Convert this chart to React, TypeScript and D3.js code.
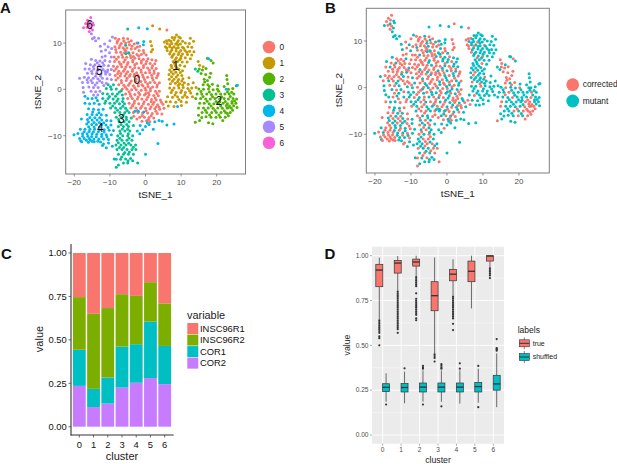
import React from "react";
import * as d3 from "d3";

type P = [number, number, number];
const cluster0: P[] = [[-8.5,11,0],[-7.5,10.8,0],[-6.2,11,1],[-5,10.9,0],[-4,10.5,0],[-8,10,0],[-6.8,9.9,0],[-5.6,10,0],[-4.5,9.6,0],[-3.2,9.8,1],[-2.4,10,0],[-1.6,9.3,1],[-8.6,9.2,0],[-7.4,9,0],[-6.3,9,0],[-5.2,8.9,1],[-4,8.7,0],[-2.9,8.8,0],[-1.8,8.4,1],[-0.6,8.4,0],[-8.2,8,0],[-7,8,0],[-5.9,7.9,0],[-4.7,7.8,0],[-3.5,7.9,0],[-2.4,7.5,1],[-1.2,7.5,0],[0.2,7.4,1],[-8.8,7,0],[-7.6,7,1],[-6.4,6.9,0],[-5.3,6.9,0],[-4.1,6.8,0],[-3,6.7,1],[-1.8,6.6,0],[-0.6,6.5,1],[0.7,6.6,0],[1.8,6.4,1],[-8.7,6,0],[-7.4,5.9,0],[-6.1,5.9,0],[-4.9,5.8,1],[-3.6,5.9,0],[-2.5,5.6,0],[-1.2,5.7,1],[0.1,5.5,1],[1.3,5.6,0],[2.6,5.5,1],[-9,5,0],[-7.9,4.9,0],[-6.7,4.9,0],[-5.5,4.8,0],[-4.3,4.8,1],[-3,4.7,0],[-1.9,4.6,0],[-0.6,4.7,1],[0.6,4.6,0],[1.8,4.6,1],[3,4.5,1],[-8.8,4,0],[-7.5,3.9,1],[-6.2,3.9,0],[-5,3.8,0],[-3.7,3.9,0],[-2.5,3.6,1],[-1.2,3.7,0],[0,3.6,1],[1.2,3.6,0],[2.4,3.5,1],[3.6,3.4,0],[-8.5,3,0],[-7.1,2.9,0],[-5.8,2.9,0],[-4.5,2.8,1],[-3.2,2.8,0],[-1.9,2.7,0],[-0.6,2.6,1],[0.6,2.6,0],[1.9,2.5,1],[3.1,2.5,0],[-8.3,2,0],[-6.8,1.9,1],[-5.4,1.9,0],[-4,1.8,0],[-2.7,1.7,0],[-1.3,1.7,0],[0,1.6,1],[1.3,1.5,0],[2.6,1.5,1],[3.9,1.4,0],[-7.5,1,0],[-6.1,0.9,1],[-4.8,0.9,0],[-3.4,0.8,0],[-2,0.7,1],[-0.7,0.7,0],[0.7,0.6,1],[2,0.5,0],[3.2,0.5,1],[-6.5,0.1,0],[-5.2,0,1],[-3.9,-0.1,0],[-2.6,-0.1,1],[-1.2,-0.2,0],[0.1,-0.2,0],[1.4,-0.3,1],[2.8,-0.4,1],[3.9,-0.4,0],[-5.6,-1,0],[-4.3,-1,1],[-3,-1.1,1],[-1.6,-1.1,0],[-0.3,-1.2,1],[1,-1.2,0],[2.3,-1.3,1],[3.6,-1.4,0],[-5,-2,1],[-3.7,-2,0],[-2.3,-2.1,1],[-1,-2.1,0],[0.3,-2.2,1],[1.7,-2.2,0],[3,-2.3,0],[4.2,-2.3,1],[-4.6,-3,0],[-3.2,-3,0],[-1.9,-3.1,1],[-0.6,-3.1,0],[0.8,-3.2,1],[2.1,-3.2,0],[3.4,-3.3,1],[4.9,-3.2,0],[-4.1,-4,1],[-2.7,-4,0],[-1.4,-4.1,0],[0,-4.1,1],[1.3,-4.2,0],[2.6,-4.2,1],[4,-4.3,0],[5.2,-4.1,1],[-3.4,-5,0],[-2.1,-5,1],[-0.8,-5.1,0],[0.6,-5.1,0],[1.9,-5.2,1],[3.3,-5.2,0],[4.6,-5.3,1],[-3.3,-5.8,0],[-1.6,-6,1],[-0.3,-6,0],[1,-6.1,1],[2.3,-6.2,0],[-1,-6.9,0],[0.3,-6.8,1],[1.2,-7,0],[-5.5,8.2,0],[-3.4,7.1,0],[-6.9,5.4,0],[-4.3,3.2,0],[-2.2,3.1,0],[-6.9,3.4,0],[-1,1,0],[-3.6,-3.6,1],[0.1,-0.9,1],[1.6,-2.7,0],[3,-3.8,0],[2.9,6.2,1],[6,12.8,0]];
const cluster0Extra: P[] = [[-7.9,10.37,0],[-6.1,10.43,0],[-4.7,10.22,1],[-7.2,9.47,0],[-3.8,9.31,0],[-5.9,8.58,0],[-8.37,8.61,1],[-2.31,9.12,0],[-6.62,7.46,0],[-4.23,7.33,0],[-1.93,7.18,1],[-0.44,7.83,0],[-8.18,6.49,0],[-5.72,6.37,0],[-3.58,6.26,0],[-1.12,6.13,1],[0.33,6.04,1],[-7.11,5.46,0],[-5.14,5.37,1],[-3.03,5.29,0],[-0.53,5.16,0],[1.96,5.07,1],[-8.27,4.46,0],[-5.83,4.33,0],[-3.62,4.28,0],[-1.27,4.18,1],[1.09,4.11,0],[2.43,4.02,0],[-7.82,3.43,0],[-5.41,3.36,1],[-3.12,3.24,0],[-0.83,3.12,0],[1.71,3.04,1],[3.42,2.97,0],[-7.73,2.46,0],[-5.16,2.38,0],[-2.61,2.23,0],[-0.28,2.14,1],[2.13,2.03,0],[-6.73,1.42,0],[-4.42,1.34,0],[-2.06,1.27,1],[0.62,1.17,0],[3.33,0.97,1],[-5.63,0.46,1],[-3.01,0.33,0],[-0.11,0.26,1],[1.38,0.17,0],[-4.62,-0.53,0],[-1.93,-0.66,0],[0.83,-0.72,1],[3.21,-0.89,0],[-4.11,-1.47,1],[-2.08,-1.63,0],[0.62,-1.71,1],[2.76,-1.84,0],[-3.07,-2.53,0],[-0.36,-2.66,1],[2.38,-2.78,0],[4.47,-2.77,1],[-3.61,-3.44,0],[-1.02,-3.62,0],[1.58,-3.73,1],[3.83,-3.81,0],[-2.32,-4.58,1],[0.17,-4.63,0],[2.92,-4.71,1],[-0.92,-5.63,1],[1.61,-5.69,0],[-2.42,-6.38,0],[0.82,-6.52,0]];
const cluster1: P[] = [[7.5,11.2,1],[8.7,11.7,1],[9.8,11.1,1],[6.6,10.6,0],[8,10.7,1],[9.2,10.5,1],[10.4,10.4,1],[12.6,11,1],[13.5,10.4,1],[5.3,10.2,0],[6.1,9.9,1],[7.4,9.9,1],[8.5,9.8,0],[9.8,9.8,1],[11.2,10,1],[12.3,9.9,1],[5.6,9.2,0],[6.8,9.2,1],[8,9.2,1],[9.2,9,1],[10.4,9.1,0],[11.9,9.2,1],[13,9.1,1],[6.1,8.4,0],[7.4,8.5,1],[8.6,8.3,1],[9.9,8.4,1],[11.1,8.4,1],[12.4,8.2,1],[13.6,8.1,1],[6.8,7.6,0],[8,7.6,1],[9.2,7.5,1],[10.4,7.6,1],[11.8,7.5,1],[13,7.4,1],[7.4,6.9,1],[8.7,6.8,1],[9.9,6.7,0],[11.2,6.8,1],[12.6,6.6,1],[7.8,6,1],[9,6,1],[10.3,5.9,1],[11.7,5.9,1],[7.2,5.2,1],[8.4,5.1,1],[9.7,5.2,0],[11,5,1],[6.8,4.2,1],[8,4.2,1],[9.4,4.3,1],[10.4,4,1],[6.6,3.2,1],[7.8,3.3,0],[9.1,3.1,1],[10.2,3,1],[6.7,2.2,1],[8,2.2,1],[9.3,2.1,1],[10.5,2.3,0],[12.2,2.5,1],[7,1.2,0],[8.4,1.3,1],[9.6,1.2,1],[10.9,1.4,1],[12,1.1,1],[13.4,1.4,1],[6.8,0.3,1],[8,0.3,1],[9.4,0.3,0],[10.6,0.4,1],[11.9,0.2,1],[13,0.3,1],[14.2,0.4,1],[7.2,-0.7,1],[8.6,-0.7,1],[9.9,-0.7,1],[11.2,-0.7,1],[12.7,-0.8,1],[6.2,-1.6,1],[7.6,-1.7,0],[9,-1.6,1],[10.4,-1.7,1],[11.7,-1.7,1],[13.2,-1.6,1],[5.8,-2.7,0],[7,-2.7,1],[8.5,-2.8,1],[10,-2.6,1],[11.5,-2.8,1],[6.4,-3.6,0],[8,-3.7,1],[10.1,-3.5,1],[1.4,10.3,0],[1.7,9.4,0],[2,8.6,0],[1.6,8.1,0],[4,13,1],[2,13.7,0],[14.8,6,0],[16.2,4.9,1],[15.2,5.2,0]];
const cluster1Extra: P[] = [[8.23,11.16,1],[9.37,11.32,1],[7.12,10.38,1],[8.91,10.12,1],[5.92,10.46,0],[6.83,9.61,1],[9.12,9.57,1],[7.47,8.92,0],[8.62,8.83,1],[10.73,8.87,1],[5.97,8.93,0],[7.03,8.13,1],[9.43,7.96,1],[11.62,8.01,1],[7.63,7.28,1],[10.02,7.17,1],[8.37,6.43,0],[9.58,6.36,1],[8.18,5.57,1],[7.41,4.73,1],[8.83,4.66,1],[7.27,3.76,1],[8.52,3.71,1],[9.78,3.63,1],[7.33,2.71,0],[8.63,2.67,1],[7.56,1.76,1],[9.03,1.71,1],[10.21,1.78,1],[9.18,0.83,0],[10.43,0.93,1],[7.52,-0.17,1],[10.13,-0.26,1],[12.38,-0.31,1],[8.29,-1.22,1],[11.03,-1.28,1],[9.37,-2.18,1]];
const cluster2: P[] = [[17.4,6.7,1],[18.4,6.2,0],[19,5.7,1],[15.1,4.4,0],[16,4.2,0],[17,4.5,0],[18.3,3.5,0],[15.6,3.4,0],[16.9,3.2,0],[18,2.6,0],[16.5,2.2,0],[17.4,1.9,0],[22.8,3,1],[22.9,2.1,1],[23.1,1.2,1],[16.2,1,0],[17.5,1,1],[18.8,1.1,0],[20.3,0.8,1],[22.1,0.6,1],[25.5,0.8,1],[15,0.1,1],[16.3,0,0],[17.7,0.1,1],[19,-0.1,1],[20.2,0,0],[23.3,0,1],[24.5,0.2,1],[14.5,-1,1],[15.8,-1,1],[17.2,-1,0],[18.5,-1.1,1],[19.8,-1,1],[21.1,-1,1],[22.3,-1,1],[23.5,-1,0],[24.8,-1,1],[14.1,-2,1],[15.5,-2,1],[16.9,-2.1,1],[18.2,-2.1,0],[19.5,-2,1],[20.8,-2.1,1],[22.1,-2,1],[23.3,-2.1,0],[24.6,-2,1],[25.6,-2.1,1],[15.2,-3,0],[16.5,-3,1],[17.9,-3.1,1],[19.2,-3.1,1],[20.5,-3,1],[21.8,-3,0],[23,-3.1,0],[24.3,-3,1],[25.4,-3,1],[14.9,-4,0],[16.3,-4,1],[17.6,-4,1],[19,-4.1,1],[20.3,-4,1],[21.6,-4.1,0],[22.9,-4,0],[24.1,-4,0],[25.7,-3.9,1],[15.9,-5,1],[17.2,-5,1],[18.6,-5,0],[19.9,-5,1],[21.2,-5,0],[22.5,-5,0],[23.8,-5,0],[17,-5.9,1],[18.4,-6,1],[19.8,-6,0],[21,-6,1],[22.4,-6,0],[23.3,-5.7,0],[14.9,-5.6,1],[15.8,-6.1,1],[15.2,-6.7,1],[17.7,-7.2,1],[18.9,-7.4,1],[21.7,-6.7,0],[20.9,-2.7,1],[22.7,-3.5,0],[23.6,-3.6,0],[24.3,-2.6,1],[14,-7.1,0]];
const cluster2Extra: P[] = [[16.63,1.57,0],[17.92,0.62,0],[15.58,-0.47,1],[17.93,-0.58,1],[20.53,-0.43,1],[23.03,-0.57,1],[24.21,-0.63,1],[16.17,-1.53,0],[18.83,-1.62,1],[21.37,-1.58,1],[23.82,-1.56,1],[17.32,-2.58,1],[19.88,-2.62,1],[22.41,-2.63,0],[25.02,-2.53,1],[18.43,-3.58,1],[21.13,-3.61,1],[23.28,-3.97,0],[24.77,-3.53,1],[16.83,-4.53,1],[19.52,-4.58,0],[22.13,-4.62,0],[24.47,-4.51,0],[20.63,-5.53,1],[23.02,-5.23,0],[18.02,-5.51,1]];
const cluster3: P[] = [[-10.5,1,0],[-9,1,1],[-11,0.2,1],[-9.6,0,1],[-8.2,0.1,0],[-6.8,-0.3,1],[-12,-0.9,0],[-10.7,-1,1],[-9.3,-1,1],[-7.9,-1,0],[-6.5,-1.2,1],[-13.5,-2.4,0],[-12,-2,1],[-10.5,-2,1],[-9.1,-2.1,0],[-7.7,-2.1,1],[-6.3,-2,0],[-11.4,-3,0],[-10,-3,1],[-8.7,-3,1],[-7.3,-3.1,0],[-5.9,-3.1,1],[-9.8,-4,0],[-8.4,-4,1],[-7,-4.1,0],[-5.6,-4.1,1],[-8.6,-5,1],[-7.2,-5,0],[-5.8,-5,0],[-4.6,-5,1],[-8.2,-6,0],[-6.8,-6,1],[-5.4,-6,1],[-4,-6.2,0],[-7.4,-7,1],[-6,-7,0],[-4.6,-7,1],[-7.6,-8,0],[-6.2,-8,1],[-4.8,-8,0],[-3.4,-7.8,1],[-7.2,-9,1],[-5.8,-9,0],[-4.4,-9,1],[-7.8,-10,0],[-6.4,-10,1],[-5,-10,0],[-3.6,-10,1],[-8,-11,1],[-6.6,-11,0],[-5.2,-11,0],[-3.8,-11,1],[-8.3,-12,1],[-6.9,-12,1],[-5.5,-12,0],[-4.1,-12,0],[-2.8,-12,1],[-8,-13,0],[-6.6,-13,1],[-5.2,-13,1],[-3.8,-13,0],[-2.7,-13,0],[-7.6,-14,1],[-6.2,-14,0],[-4.8,-14,1],[-3.4,-14,0],[-7,-15.1,1],[-5.6,-15,0],[-4.2,-14.9,1],[-6.2,-15.9,1],[-5,-15.9,1],[-8.2,-16.8,0],[-7.6,-16.3,1],[-3.6,-15.4,1],[-2.2,-15.9,0],[-5,13,1],[-5.6,9.5,1],[-4.7,7.9,1],[-5.5,7.7,1],[14,4.4,1],[14.7,3.9,1],[-8.8,-15,1]];
const cluster3Extra: P[] = [[-9.83,0.57,0],[-7.31,-0.57,0],[-10.13,-1.53,1],[-8.42,-1.47,0],[-11.17,-2.53,0],[-8.03,-2.58,1],[-6.42,-2.61,0],[-9.22,-3.57,1],[-6.36,-3.62,0],[-7.87,-4.53,0],[-5.17,-4.58,1],[-6.23,-5.46,0],[-7.53,-6.52,0],[-5.33,-6.53,1],[-6.87,-7.56,1],[-5.27,-7.57,0],[-6.52,-8.53,0],[-5.03,-8.61,1],[-7.03,-9.52,0],[-4.83,-9.57,1],[-7.21,-10.56,1],[-4.63,-10.53,0],[-6.02,-11.57,0],[-7.63,-11.52,1],[-4.73,-11.63,1],[-6.12,-12.53,0],[-3.42,-12.47,1],[-7.32,-12.56,1],[-4.53,-13.53,0],[-5.83,-13.62,1],[-6.71,-14.57,0],[-4.9,-15.41,1]];
const cluster4: P[] = [[-17,-1.5,1],[-16.2,-2,1],[-15,-2,0],[-13.9,-1.8,1],[-17,-3,0],[-15.7,-3.1,1],[-14.4,-3,1],[-13,-3.2,0],[-16,-4.2,0],[-14.6,-4.3,1],[-13.2,-4.4,1],[-11.9,-4.3,0],[-16.4,-5.4,0],[-15,-5.4,0],[-13.7,-5.5,1],[-12.4,-5.5,1],[-11,-5.6,0],[-18,-6.4,0],[-16.3,-6.5,1],[-15,-6.6,0],[-13.6,-6.6,0],[-12.3,-6.6,1],[-10.9,-6.7,0],[-9.7,-6.8,1],[-16.5,-7.5,0],[-15.1,-7.6,1],[-13.8,-7.6,0],[-12.4,-7.6,1],[-11.1,-7.7,0],[-9.7,-7.7,1],[-18.3,-8.6,1],[-17,-8.6,0],[-15.6,-8.6,0],[-14.3,-8.6,1],[-12.9,-8.7,0],[-11.6,-8.7,1],[-10.2,-8.8,0],[-9,-8.9,1],[-19,-9.5,0],[-17.7,-9.6,1],[-16.4,-9.6,0],[-15,-9.6,0],[-13.7,-9.7,1],[-12.3,-9.7,1],[-11,-9.8,0],[-9.6,-9.8,1],[-20.1,-9.8,1],[-18.5,-10.6,0],[-17.2,-10.6,0],[-15.8,-10.6,0],[-14.5,-10.7,0],[-13.1,-10.7,1],[-11.8,-10.7,1],[-10.4,-10.8,0],[-18.2,-11.1,1],[-16.6,-11,0],[-15,-11.2,0],[-13.4,-11.2,1],[-11.8,-11.8,0],[-10.4,-11.6,1],[-12.1,-12.1,0],[-11,-12.6,1],[-9.3,-12.3,1],[-8.2,-15.1,0],[-2,-4.7,1],[-3,-4.7,1],[-0.5,-4.9,1],[0.5,-7.2,1],[-1.5,-7.8,1],[0,-8,1],[1,-7.6,1],[-0.8,-8.7,0],[-2.3,-9,1],[-1.6,-9.6,1],[2.2,-8.6,1],[2.6,-7,1],[3.8,-6.7,1],[4.7,-6.9,1],[3.5,-11.7,1],[0,-14,1],[-2.1,10,1],[-0.5,10.3,1],[-0.6,9.6,1],[-1.9,13.3,1],[0.5,13.1,1],[9,-3.7,1],[8,-7.5,1],[6,-7.7,1],[22.7,0,1],[25.8,0.9,1],[17.7,6.6,1]];
const cluster4Extra: P[] = [[-14.83,-4.87,1],[-13.07,-5.03,0],[-15.63,-6.07,0],[-14.23,-6.13,1],[-12.87,-6.12,0],[-16.03,-7.03,1],[-14.47,-7.13,1],[-12.97,-7.17,0],[-11.72,-7.21,1],[-15.97,-8.07,0],[-14.43,-8.13,1],[-12.93,-8.12,1],[-10.53,-8.21,0],[-17.23,-9.13,0],[-15.83,-9.11,0],[-14.63,-9.17,1],[-13.23,-9.13,0],[-11.63,-9.22,1],[-17.63,-10.13,0],[-16.23,-10.13,0],[-15.13,-10.17,0],[-13.83,-10.21,1],[-12.33,-10.18,0],[-10.83,-10.27,1],[-16.03,-11.41,0],[-14.43,-11.33,0],[-12.63,-11.37,1],[-15.53,-10.93,0],[-17.93,-11.33,0]];
const cluster5: P[] = [[-9.3,11.3,1],[-10,10.5,0],[-11.5,9.8,0],[-12.7,9.3,1],[-10.5,9.2,1],[-9.5,8.8,0],[-11.2,8.5,0],[-12.4,8.2,1],[-10.1,7.9,1],[-11.3,7.2,0],[-12.2,7,0],[-9.6,7,0],[-15.2,6.5,1],[-14,6.2,0],[-12.8,6.1,0],[-11.4,6.2,1],[-10,6,0],[-16.8,5.6,1],[-15.5,5.3,0],[-14.2,5.3,1],[-13,5.2,0],[-11.7,5.2,0],[-10.4,5.1,0],[-17,4.4,0],[-15.8,4.4,1],[-14.5,4.4,0],[-13.2,4.3,0],[-11.9,4.3,0],[-10.6,4.2,1],[-9.6,4.3,0],[-16.3,3.5,0],[-15,3.4,0],[-13.8,3.4,0],[-12.5,3.3,0],[-11.2,3.3,1],[-10,3.2,0],[-18.5,2.4,1],[-17.2,2.6,0],[-16,2.5,0],[-14.7,2.4,0],[-13.4,2.3,0],[-12.1,2.4,1],[-10.8,2.3,0],[-9.6,2.1,1],[-17.7,1.5,0],[-16.2,1.5,1],[-14.9,1.4,0],[-13.6,1.4,1],[-12.2,1.5,0],[-11,1.3,0],[-17.5,0.4,1],[-15.9,0.5,0],[-14.6,0.4,0],[-13.3,0.4,1],[-17.4,-0.6,1],[-15.3,-0.4,1],[-14,-0.5,0],[-12.8,-0.4,1],[-14.6,-1.2,0],[-13.4,-1.2,1],[-14.4,11.2,1],[-14.9,10.9,1],[-14,10.5,1],[-13.2,11,1],[-15.2,12,1]];
const cluster5Extra: P[] = [[-14.63,4.93,0],[-12.47,4.83,0],[-15.13,3.93,0],[-13.63,3.87,0],[-11.33,3.83,0],[-14.03,2.83,0],[-12.63,2.87,1],[-15.33,1.93,0],[-12.87,1.87,0],[-14.13,0.93,1],[-11.73,0.83,0],[-12.03,5.73,0],[-13.53,5.73,0],[-10.73,3.73,0],[-16.43,2.07,0]];
const cluster6: P[] = [[-15.4,15.5,0],[-16.3,14.9,0],[-15.7,14.5,0],[-14.8,14.3,1],[-16.8,14.2,0],[-15.8,13.7,1],[-14.6,13.9,1],[-17.4,13.3,1],[-16.4,13.4,0],[-15.4,13.2,0],[-14.9,12.8,1],[-15.8,12.5,0]];
const clusterPoints = [
  [...cluster0, ...cluster0Extra], [...cluster1, ...cluster1Extra], [...cluster2, ...cluster2Extra],
  [...cluster3, ...cluster3Extra], [...cluster4, ...cluster4Extra], [...cluster5, ...cluster5Extra], cluster6,
];
const clusterLabels = ["0", "1", "2", "3", "4", "5", "6"];
const clusterColors = ["#F8766D", "#C49A00", "#53B400", "#00C094", "#00B6EB", "#A58AFF", "#FB61D7"];
const labelSpots: [number, number][] = [[-2.4, 2], [8.5, 5], [20.6, -2.4], [-6.8, -6.3], [-12.7, -8.2], [-13, 4], [-15.7, 14]];
const conditions = ["corrected", "mutant"];
const conditionColors = ["#F8766D", "#00BFC4"];

const variables = ["INSC96R1", "INSC96R2", "COR1", "COR2"];
const barColors = ["#F8766D", "#7CAE00", "#00BFC4", "#C77CFF"];
const cor2 = [0.235, 0.113, 0.133, 0.225, 0.253, 0.28, 0.245];
const cor1 = [0.208, 0.105, 0.15, 0.236, 0.222, 0.325, 0.22];
const insc2 = [0.303, 0.432, 0.4, 0.302, 0.278, 0.227, 0.245];
const insc1 = [0.254, 0.35, 0.317, 0.237, 0.247, 0.168, 0.29];

type Box = { lo: number; q1: number; med: number; q3: number; hi: number; out: number[] };
const boxLabels = ["true", "shuffled"];
const trueBoxes: Box[] = [
  { lo: 0.645, q1: 0.827, med: 0.92, q3: 0.952, hi: 0.989, out: [0.64, 0.63, 0.62, 0.61, 0.6, 0.59, 0.58, 0.57, 0.55, 0.54, 0.5] },
  { lo: 0.805, q1: 0.903, med: 0.959, q3: 0.974, hi: 0.998, out: [0.8, 0.79, 0.78, 0.77, 0.76, 0.75, 0.74, 0.73, 0.72, 0.71, 0.7, 0.69, 0.68, 0.67, 0.66, 0.65, 0.64, 0.63, 0.62, 0.61, 0.6, 0.59, 0.57] },
  { lo: 0.887, q1: 0.942, med: 0.965, q3: 0.981, hi: 1, out: [0.88, 0.87, 0.86, 0.85, 0.84, 0.83, 0.79, 0.76, 0.75, 0.74, 0.73, 0.72, 0.71, 0.7, 0.69, 0.68, 0.67, 0.65, 0.64] },
  { lo: 0.455, q1: 0.693, med: 0.777, q3: 0.855, hi: 0.99, out: [0.45, 0.44, 0.43, 0.41] },
  { lo: 0.77, q1: 0.86, med: 0.897, q3: 0.924, hi: 0.98, out: [0.77, 0.76, 0.75, 0.74, 0.73, 0.72, 0.71, 0.7, 0.69, 0.68, 0.67, 0.66, 0.65, 0.62, 0.585] },
  { lo: 0.706, q1: 0.855, med: 0.913, q3: 0.97, hi: 1, out: [] },
  { lo: 0.933, q1: 0.97, med: 0.998, q3: 1, hi: 1, out: [0.93, 0.92, 0.91, 0.9, 0.89, 0.875] },
];
const shuffledBoxes: Box[] = [
  { lo: 0.186, q1: 0.242, med: 0.266, q3: 0.286, hi: 0.344, out: [0.17] },
  { lo: 0.177, q1: 0.24, med: 0.265, q3: 0.287, hi: 0.353, out: [0.372] },
  { lo: 0.186, q1: 0.24, med: 0.267, q3: 0.29, hi: 0.36, out: [0.385, 0.375, 0.37, 0.17] },
  { lo: 0.185, q1: 0.24, med: 0.267, q3: 0.29, hi: 0.36, out: [0.395, 0.385, 0.375, 0.37, 0.16] },
  { lo: 0.175, q1: 0.24, med: 0.267, q3: 0.29, hi: 0.36, out: [0.4, 0.37] },
  { lo: 0.18, q1: 0.24, med: 0.27, q3: 0.293, hi: 0.37, out: [0.385, 0.155] },
  { lo: 0.155, q1: 0.25, med: 0.285, q3: 0.333, hi: 0.455, out: [0.535, 0.485, 0.48, 0.475, 0.47] },
];
const tsneXTicks = [-20, -10, 0, 10, 20];
const tsneYTicks = [-10, 0, 10];
const valueTicks = [0, 0.25, 0.5, 0.75, 1];

const FONT = "'Liberation Sans', Arial, sans-serif";
const GREY = "#4d4d4d";
const minus = (v: number) => String(v).replace("-", "\u2212");

function TsnePanel(props: {
  sx: d3.ScaleLinear<number, number>; sy: d3.ScaleLinear<number, number>;
  box: [number, number, number, number]; color: (p: P, cluster: number) => string; labelX: number; labelY: number; titleY: number; children?: React.ReactNode;
}) {
  const { sx, sy, box, color, labelX, labelY, titleY } = props;
  const [l, t, r, b] = box;
  return (
    <g fontFamily={FONT}>
      {clusterPoints.map((pts, c) =>
        pts.map((p, i) => <circle key={c + "-" + i} cx={sx(p[0])} cy={sy(p[1])} r={1.5} fill={color(p, c)} />)
      )}
      {props.children}
      <rect x={l} y={t} width={r - l} height={b - t} fill="none" stroke="#7f7f7f" strokeWidth={1} />
      {tsneXTicks.map((v) => (
        <g key={v}>
          <line x1={sx(v)} x2={sx(v)} y1={b} y2={b + 2.5} stroke="#555" strokeWidth={0.6} />
          <text x={sx(v)} y={b + 10.5} textAnchor="middle" fontSize={8} fill={GREY}>{minus(v)}</text>
        </g>
      ))}
      {tsneYTicks.map((v) => (
        <g key={v}>
          <line x1={l - 2.5} x2={l} y1={sy(v)} y2={sy(v)} stroke="#555" strokeWidth={0.6} />
          <text x={l - 4} y={sy(v) + 2.8} textAnchor="end" fontSize={8} fill={GREY}>{minus(v)}</text>
        </g>
      ))}
      <text x={(l + r) / 2} y={titleY} textAnchor="middle" fontSize={9.9} fill="#222">tSNE_1</text>
      <text transform={`translate(${labelX},${labelY}) rotate(-90)`} textAnchor="middle" fontSize={9.9} fill="#222">tSNE_2</text>
    </g>
  );
}

export default function App() {
  // Panel A
  const ax = d3.scaleLinear().domain([-20, 20]).range([74.3, 216.7]);
  const ay = d3.scaleLinear().domain([-10, 10]).range([135.7, 43]);
  // Panel B
  const bx = d3.scaleLinear().domain([-20, 20]).range([375, 519]);
  const by = d3.scaleLinear().domain([-10, 10]).range([134.3, 41]);
  // Panel C
  const cx = d3.scaleBand<string>().domain(clusterLabels).range([72.2, 171.8]).paddingInner(0.1).paddingOuter(0.05);
  const cy = d3.scaleLinear().domain([0, 1]).range([426.7, 253]);
  const stackData = clusterLabels.map((_, i) => ({ INSC96R1: insc1[i], INSC96R2: insc2[i], COR1: cor1[i], COR2: cor2[i] }));
  const stack = d3.stack<any>().keys([...variables].reverse())(stackData);
  // Panel D
  const dx = d3.scalePoint<string>().domain(clusterLabels).range([382.7, 493.3]);
  const dy = d3.scaleLinear().domain([0, 1]).range([435, 255.7]);
  const dBox: [number, number, number, number] = [372, 246.7, 504, 443.7];
  const boxW = 7;
  const minorY = [0.125, 0.375, 0.625, 0.875];

  const drawBox = (b: Box, x: number, fill: string, k: string) => (
    <g key={k}>
      <line x1={x} x2={x} y1={dy(b.hi)} y2={dy(b.q3)} stroke="#333" strokeWidth={0.7} />
      <line x1={x} x2={x} y1={dy(b.q1)} y2={dy(b.lo)} stroke="#333" strokeWidth={0.7} />
      {b.out.map((o, i) => <circle key={i} cx={x} cy={dy(o)} r={1.1} fill="#333" />)}
      <rect x={x - boxW / 2} y={dy(b.q3)} width={boxW} height={dy(b.q1) - dy(b.q3)} fill={fill} stroke="#333" strokeWidth={0.7} />
      <line x1={x - boxW / 2} x2={x + boxW / 2} y1={dy(b.med)} y2={dy(b.med)} stroke="#333" strokeWidth={1.3} />
    </g>
  );

  return (
    <svg width={617} height={464} style={{ position: "absolute", left: 0, top: 0, background: "#fff" }} fontFamily={FONT}>
      <text x={0} y={12.5} fontSize={15} fontWeight="bold" fill="#111">A</text>
      <text x={325} y={12.5} fontSize={15} fontWeight="bold" fill="#111">B</text>
      <text x={1} y={259} fontSize={15} fontWeight="bold" fill="#111">C</text>
      <text x={324.5} y={259} fontSize={15} fontWeight="bold" fill="#111">D</text>

      {/* A */}
      <TsnePanel sx={ax} sy={ay} box={[65.7, 10, 245.5, 174]} color={(_, c) => clusterColors[c]} labelX={41} labelY={92} titleY={198}>
        {clusterLabels.map((c, i) => (
          <text key={c} x={ax(labelSpots[i][0])} y={ay(labelSpots[i][1]) + 4.2} textAnchor="middle" fontSize={12} fill="#111">{c}</text>
        ))}
      </TsnePanel>
      {clusterLabels.map((c, i) => (
        <g key={c}>
          <circle cx={269} cy={47 + i * 15.95} r={6.3} fill={clusterColors[i]} />
          <text x={279.5} y={47 + i * 15.95 + 3} fontSize={8.3} fill="#222">{c}</text>
        </g>
      ))}

      {/* B */}
      <TsnePanel sx={bx} sy={by} box={[366.3, 8.3, 549.3, 173]} color={(p) => conditionColors[p[2]]} labelX={342} labelY={90} titleY={197} />
      {conditions.map((c, i) => (
        <g key={c}>
          <circle cx={572.7} cy={84.7 + i * 16.3} r={6.4} fill={conditionColors[i]} />
          <text x={582.7} y={84.7 + i * 16.3 + 2.6} fontSize={8.4} fill="#222">{c}</text>
        </g>
      ))}

      {/* C */}
      {stack.map((s) => {
        const name = s.key;
        const col = barColors[variables.indexOf(name)];
        return s.map((d, i) => (
          <rect key={name + i} x={cx(clusterLabels[i])} width={cx.bandwidth()} y={cy(d[1])} height={cy(d[0]) - cy(d[1])} fill={col} />
        ));
      })}
      <line x1={71} x2={71} y1={244} y2={435.5} stroke="#333" strokeWidth={1.1} />
      <line x1={70.5} x2={173.7} y1={435} y2={435} stroke="#333" strokeWidth={1.1} />
      {valueTicks.map((v) => (
        <g key={v}>
          <line x1={68.5} x2={71} y1={cy(v)} y2={cy(v)} stroke="#333" strokeWidth={0.7} />
          <text x={66.7} y={cy(v) + 3.3} textAnchor="end" fontSize={9.4} fill="#111">{v.toFixed(2)}</text>
        </g>
      ))}
      {clusterLabels.map((c) => {
        const x = cx(c)! + cx.bandwidth() / 2;
        return (
          <g key={c}>
            <line x1={x} x2={x} y1={435} y2={437.5} stroke="#333" strokeWidth={0.7} />
            <text x={x} y={447.5} textAnchor="middle" fontSize={9.4} fill="#111">{c}</text>
          </g>
        );
      })}
      <text x={122} y={460} textAnchor="middle" fontSize={11} fill="#222">cluster</text>
      <text transform="translate(43,339) rotate(-90)" textAnchor="middle" fontSize={11} fill="#222">value</text>
      <text x={187} y={318.5} fontSize={10.9} fill="#222">variable</text>
      {variables.map((v, i) => (
        <g key={v}>
          <rect x={187.3} y={323 + i * 11.55} width={11} height={11} fill={barColors[i]} />
          <text x={200} y={323 + i * 11.55 + 8.8} fontSize={9.4} fill="#111">{v}</text>
        </g>
      ))}

      {/* D */}
      <rect x={dBox[0]} y={dBox[1]} width={dBox[2] - dBox[0]} height={dBox[3] - dBox[1]} fill="#EBEBEB" />
      {minorY.map((v) => <line key={v} x1={dBox[0]} x2={dBox[2]} y1={dy(v)} y2={dy(v)} stroke="#fff" strokeWidth={0.4} />)}
      {valueTicks.map((v) => <line key={v} x1={dBox[0]} x2={dBox[2]} y1={dy(v)} y2={dy(v)} stroke="#fff" strokeWidth={0.9} />)}
      {clusterLabels.map((c) => <line key={c} x1={dx(c)} x2={dx(c)} y1={dBox[1]} y2={dBox[3]} stroke="#fff" strokeWidth={0.9} />)}
      {clusterLabels.map((c, i) => drawBox(trueBoxes[i], dx(c)! - 3.4, conditionColors[0], "t" + c))}
      {clusterLabels.map((c, i) => drawBox(shuffledBoxes[i], dx(c)! + 3.4, conditionColors[1], "s" + c))}
      {valueTicks.map((v) => (
        <g key={v}>
          <line x1={370} x2={372} y1={dy(v)} y2={dy(v)} stroke="#555" strokeWidth={0.5} />
          <text x={368.5} y={dy(v) + 2.3} textAnchor="end" fontSize={6.6} fill={GREY}>{v.toFixed(2)}</text>
        </g>
      ))}
      {clusterLabels.map((c) => (
        <g key={c}>
          <line x1={dx(c)} x2={dx(c)} y1={443.7} y2={445.7} stroke="#555" strokeWidth={0.5} />
          <text x={dx(c)} y={452} textAnchor="middle" fontSize={6.6} fill={GREY}>{c}</text>
        </g>
      ))}
      <text x={438} y={463} textAnchor="middle" fontSize={8.7} fill="#222">cluster</text>
      <text transform="translate(350,345) rotate(-90)" textAnchor="middle" fontSize={8.7} fill="#222">value</text>
      <text x={517.7} y={333} fontSize={8.5} fill="#222">labels</text>
      {boxLabels.map((l, i) => {
        const y = 343.3 + i * 13.7;
        return (
          <g key={l}>
            <line x1={524.3} x2={524.3} y1={y - 6} y2={y + 6} stroke="#333" strokeWidth={0.6} />
            <rect x={519.3} y={y - 3.5} width={10} height={7} fill={conditionColors[i]} stroke="#333" strokeWidth={0.6} />
            <line x1={519.3} x2={529.3} y1={y} y2={y} stroke="#333" strokeWidth={1} />
            <text x={532.7} y={y + 2.4} fontSize={7} fill="#222">{l}</text>
          </g>
        );
      })}
    </svg>
  );
}
